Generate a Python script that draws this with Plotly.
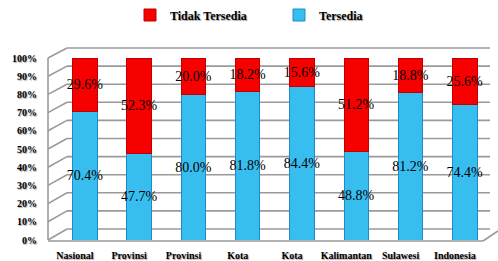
import numpy as np
import plotly.graph_objects as go

categories = ["Nasional", "Provinsi", "Provinsi", "Kota", "Kota", "Kalimantan", "Sulawesi", "Indonesia"]
tersedia = [70.4, 47.7, 80.0, 81.8, 84.4, 48.8, 81.2, 74.4]
tidak_tersedia = [29.6, 52.3, 20.0, 18.2, 15.6, 51.2, 18.8, 25.6]
y_ticks = [0, 10, 20, 30, 40, 50, 60, 70, 80, 90, 100]
y_ticktext = [f"<b>{v}%</b>" for v in y_ticks]

W, H = 498, 261
L, R, T, B = 48, 492, 48, 240
FRONT_PX = 1.82   # px per % on the front (bars)
BACK_PX = 1.81
BACK_ZERO = 229
DEPTH_X = 67

def fx(p):
    return (p - L) / (R - L)

def fy(p):
    return (B - p) / (B - T)

x = np.arange(len(categories))
serif = "Liberation Serif"
shadow = "1px 1px 1px rgba(0,0,0,0.35)"

fig = go.Figure()
fig.add_trace(go.Bar(
    x=x, y=tersedia, name="<b>Tersedia</b>", width=0.45,
    marker=dict(color="#38BDEF", line=dict(color="#1E8ACB", width=1)),
    texttemplate="%{y:.1f}%", textposition="inside", insidetextanchor="middle",
    textangle=0, constraintext="none",
    textfont=dict(family=serif, size=14, color="black"),
))
fig.add_trace(go.Bar(
    x=x, y=tidak_tersedia, name="<b>Tidak Tersedia</b>", width=0.45,
    marker=dict(color="#F70000", line=dict(color="#C00000", width=1)),
    texttemplate="%{y:.1f}%", textposition="inside", insidetextanchor="middle",
    textangle=0, constraintext="none",
    textfont=dict(family=serif, size=14, color="black"),
))

shapes = []
grid = dict(color="#9A9A9A", width=1.6)
for v in y_ticks:
    by = BACK_ZERO - v * BACK_PX
    fyv = B - v * FRONT_PX
    shapes.append(dict(type="line", xref="paper", yref="paper", layer="below",
                       x0=fx(DEPTH_X), x1=fx(490), y0=fy(by), y1=fy(by), line=grid))
    shapes.append(dict(type="line", xref="paper", yref="paper", layer="below",
                       x0=fx(L), x1=fx(DEPTH_X), y0=fy(fyv), y1=fy(by), line=grid))
shapes.append(dict(type="line", xref="paper", yref="paper", layer="below",
                   x0=fx(L), x1=fx(L), y0=fy(B), y1=fy(B - 100 * FRONT_PX), line=grid))
shapes.append(dict(type="line", xref="paper", yref="paper", layer="below",
                   x0=fx(L), x1=fx(483), y0=fy(B + 1), y1=fy(B + 1), line=grid))
shapes.append(dict(type="line", xref="paper", yref="paper", layer="below",
                   x0=fx(483), x1=fx(498), y0=fy(B + 1), y1=fy(B - 9), line=grid))

fig.update_layout(
    width=W, height=H,
    margin=dict(l=L, r=W - R, t=T, b=H - B, pad=0, autoexpand=False),
    paper_bgcolor="white", plot_bgcolor="rgba(0,0,0,0)",
    barmode="stack", showlegend=True,
    shapes=shapes,
    legend=dict(orientation="h", traceorder="reversed",
                xref="container", yref="container",
                x=130 / W, xanchor="left", y=1 - 15 / H, yanchor="middle",
                entrywidth=104, entrywidthmode="pixels",
                font=dict(family=serif, size=12, color="black", shadow=shadow)),
    xaxis=dict(range=[-0.68, 7.5], tickvals=x, ticktext=[f"<b>{c}</b>" for c in categories],
               showgrid=False, zeroline=False, showline=False, ticks="",
               ticklabelstandoff=8, ticklabelshift=-10,
               tickfont=dict(family=serif, size=10, color="black", shadow=shadow)),
    yaxis=dict(range=[0, (B - T) / FRONT_PX], tickvals=y_ticks, ticktext=y_ticktext,
               showgrid=False, zeroline=False, showline=False, ticks="",
               ticklabelstandoff=10,
               tickfont=dict(family=serif, size=10, color="black", shadow=shadow)),
)

fig.write_html("out.html", config={"displayModeBar": False},
               post_script="document.body.style.margin='0';document.body.style.padding='0';")
